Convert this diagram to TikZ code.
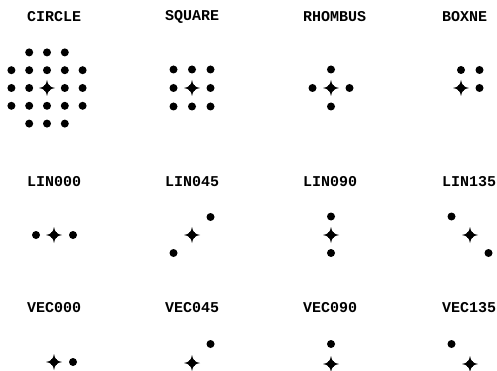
\documentclass[tikz,border=0pt]{standalone}
\usepackage{fontspec}
\newfontfamily\plotfont{Liberation Mono}
\begin{document}
\begin{tikzpicture}[x=1pt,y=-1pt,
  dotm/.style={circle,fill=black,inner sep=0pt,minimum size=8pt},
  ttl/.style={anchor=west,inner sep=0pt,font=\plotfont\bfseries\fontsize{15}{15}\selectfont},
  starmark/.pic={\fill (8,0) .. controls (2.6,1) and (1,2.6) .. (0,8) .. controls (-1,2.6) and (-2.6,1) .. (-8,0) .. controls (-2.6,-1) and (-1,-2.6) .. (0,-8) .. controls (1,-2.6) and (2.6,-1) .. (8,0) -- cycle; \fill (0,0) circle (3.8);}]
\useasboundingbox (0,0) rectangle (497,371);
% titles
\node[ttl] (tcircle) at (27,17) {CIRCLE};
\node[ttl] (tsquare) at (165,17) {SQUARE};
\node[ttl] (trhombus) at (303,17) {RHOMBUS};
\node[ttl] (tboxne) at (442,17) {BOXNE};
\node[ttl] (tlin000) at (27,182) {LIN000};
\node[ttl] (tlin045) at (165,182) {LIN045};
\node[ttl] (tlin090) at (303,182) {LIN090};
\node[ttl] (tlin135) at (442,182) {LIN135};
\node[ttl] (tvec000) at (27,308) {VEC000};
\node[ttl] (tvec045) at (165,308) {VEC045};
\node[ttl] (tvec090) at (303,308) {VEC090};
\node[ttl] (tvec135) at (442,308) {VEC135};
% CIRCLE
\pic (scircle) at (47,88) {starmark};
\foreach \i/\dx/\dy in {a/-17.8/-35.6,b/0/-35.6,c/17.8/-35.6,
  d/-35.6/-17.8,e/-17.8/-17.8,f/0/-17.8,g/17.8/-17.8,h/35.6/-17.8,
  i/-35.6/0,j/-17.8/0,k/17.8/0,l/35.6/0,
  m/-35.6/17.8,n/-17.8/17.8,o/0/17.8,p/17.8/17.8,q/35.6/17.8,
  r/-17.8/35.6,s/0/35.6,t/17.8/35.6}
  \node[dotm] (circ\i) at (47+\dx,88+\dy) {};
% SQUARE
\pic (ssquare) at (192,88) {starmark};
\foreach \i/\dx/\dy in {a/-18.5/-18.5,b/0/-18.5,c/18.5/-18.5,d/-18.5/0,e/18.5/0,f/-18.5/18.5,g/0/18.5,h/18.5/18.5}
  \node[dotm] (sq\i) at (192+\dx,88+\dy) {};
% RHOMBUS
\pic (srhombus) at (331,88) {starmark};
\foreach \i/\dx/\dy in {a/0/-18.5,b/-18.5/0,c/18.5/0,d/0/18.5}
  \node[dotm] (rh\i) at (331+\dx,88+\dy) {};
% BOXNE
\pic (sboxne) at (461,88) {starmark};
\node[dotm] (bxa) at (461,70) {};
\node[dotm] (bxb) at (479.5,70) {};
\node[dotm] (bxc) at (479.5,88) {};
% LIN
\pic (slin000) at (54,235) {starmark};
\node[dotm] (l0a) at (36,235) {};
\node[dotm] (l0b) at (73,235) {};
\pic (slin045) at (192,235) {starmark};
\node[dotm] (l45a) at (173.5,253) {};
\node[dotm] (l45b) at (210.5,217) {};
\pic (slin090) at (331,235) {starmark};
\node[dotm] (l90a) at (331,216.5) {};
\node[dotm] (l90b) at (331,253) {};
\pic (slin135) at (470,235) {starmark};
\node[dotm] (l135a) at (451.5,216.5) {};
\node[dotm] (l135b) at (488.5,253) {};
% VEC
\pic (svec000) at (54,362) {starmark};
\node[dotm] (v0) at (73,362) {};
\pic (svec045) at (192,363) {starmark};
\node[dotm] (v45) at (210.5,344) {};
\pic (svec090) at (331,364) {starmark};
\node[dotm] (v90) at (331,344) {};
\pic (svec135) at (470,364) {starmark};
\node[dotm] (v135) at (451.5,344) {};
\end{tikzpicture}
\end{document}
